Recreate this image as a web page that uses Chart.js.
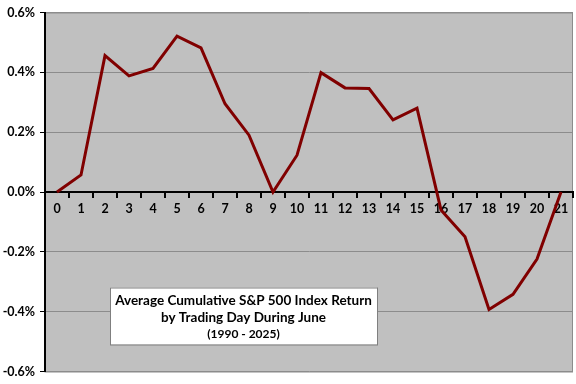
<!DOCTYPE html>
<html>
<head>
<meta charset="utf-8">
<script src="https://cdn.jsdelivr.net/npm/chart.js@4/dist/chart.umd.min.js"></script>
<style>
  html, body { margin: 0; padding: 0; background: #fff; }
  #wrap { width: 576px; height: 384px; }
</style>
</head>
<body>
<div id="wrap"><canvas id="juneChart" width="576" height="384"></canvas></div>
<script>
const days = ['0','1','2','3','4','5','6','7','8','9','10','11','12','13','14','15','16','17','18','19','20','21'];
const avgReturn = [0.000, 0.057, 0.456, 0.388, 0.413, 0.521, 0.482, 0.295, 0.190, 0.000, 0.123,
                   0.399, 0.348, 0.346, 0.241, 0.280, -0.060, -0.150, -0.393, -0.342, -0.224, 0.000];
const boxLines = ['Average Cumulative S&P 500 Index Return', 'by Trading Day During June', '(1990 - 2025)'];

const plotBg = {
    id: 'plotBg',
    beforeDraw(chart) {
        const a = chart.chartArea, ctx = chart.ctx;
        ctx.save();
        ctx.fillStyle = '#c0c0c0';
        ctx.fillRect(a.left, a.top, a.right - a.left, a.bottom - a.top);
        ctx.strokeStyle = '#8c8c8c';
        ctx.lineWidth = 1;
        ctx.strokeRect(a.left, a.top + 0.5, a.right - a.left - 0.5, a.bottom - a.top);
        ctx.restore();
    },
    afterDraw(chart) {
        const a = chart.chartArea, ctx = chart.ctx;
        const x = a.left + 65, y = a.top + 275, w = 267, h = 57;
        ctx.save();
        ctx.fillStyle = '#ffffff';
        ctx.fillRect(x, y, w, h);
        ctx.strokeStyle = '#7f7f7f';
        ctx.lineWidth = 1;
        ctx.strokeRect(x + 0.5, y + 0.5, w, h);
        ctx.fillStyle = '#000';
        ctx.textAlign = 'center';
        ctx.textBaseline = 'middle';
        ctx.font = 'bold 13.5px Lato';
        ctx.fillText(boxLines[0], x + w / 2, y + 13);
        ctx.fillText(boxLines[1], x + w / 2, y + 30);
        ctx.font = 'bold 12px Lato';
        ctx.fillText(boxLines[2], x + w / 2, y + 47);
        ctx.restore();
    }
};

new Chart(document.getElementById('juneChart').getContext('2d'), {
    type: 'line',
    data: {
        labels: days,
        datasets: [{
            data: avgReturn,
            borderColor: '#800000',
            borderWidth: 3,
            pointRadius: 0,
            tension: 0,
            fill: false
        }]
    },
    options: {
        animation: false,
        responsive: false,
        layout: { padding: { top: 8, right: 3, bottom: 8, left: 0 } },
        scales: {
            x: {
                type: 'category',
                offset: true,
                position: { y: 0 },
                grid: { display: true, drawOnChartArea: false, drawTicks: true, tickLength: 5, color: '#000', lineWidth: 2, offset: true },
                border: { display: true, color: '#000', width: 2 },
                ticks: { color: '#000', font: { family: 'Lato', weight: 'bold', size: 12.5 }, padding: 4, maxRotation: 0, autoSkip: false }
            },
            y: {
                min: -0.6,
                max: 0.6,
                afterFit(scale) { scale.width = 45; },
                grid: { color: '#8c8c8c', lineWidth: 1, tickLength: 5, tickColor: '#000' },
                border: { display: true, color: '#000', width: 2 },
                ticks: {
                    stepSize: 0.2,
                    color: '#000',
                    padding: 5,
                    font: { family: 'Lato', weight: 'bold', size: 12.5 },
                    callback: v => v.toFixed(1) + '%'
                }
            }
        },
        plugins: {
            legend: { display: false },
            tooltip: { enabled: false }
        }
    },
    plugins: [plotBg]
});
</script>
</body>
</html>
